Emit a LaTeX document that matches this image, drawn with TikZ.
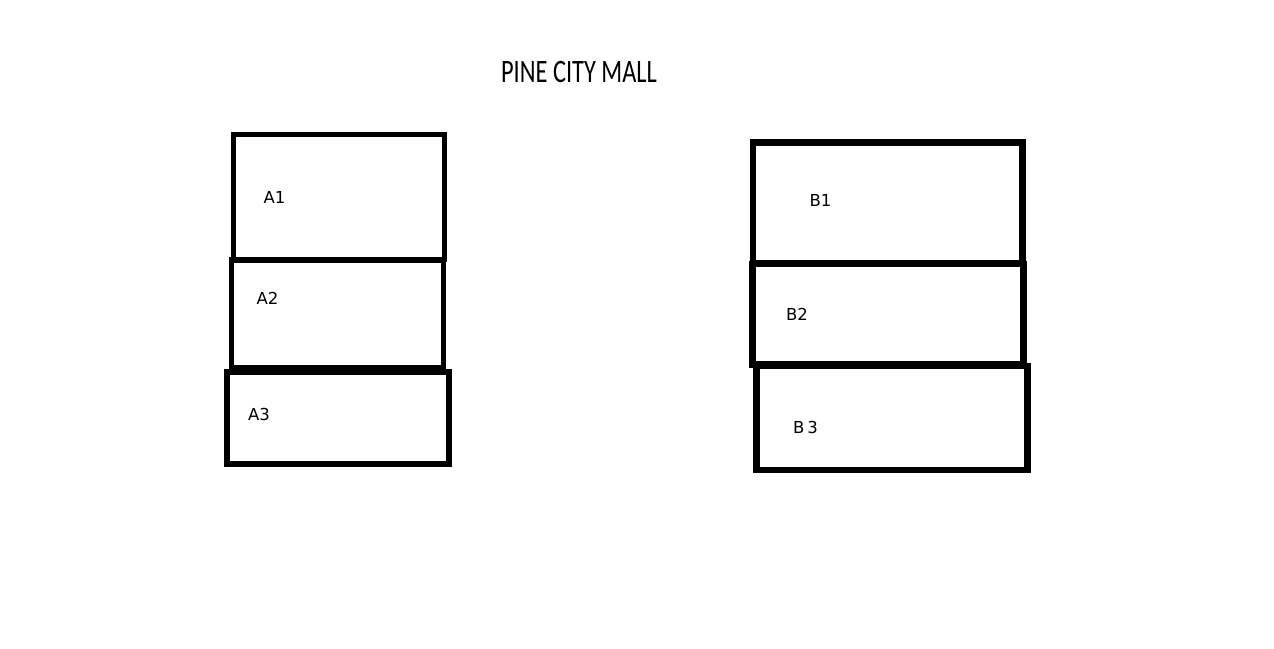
\documentclass[tikz,border=0pt]{standalone}
\usepackage{fontspec}
\setmainfont{DejaVu Sans}
\newfontfamily\titlefont{Carlito}
\begin{document}
\begin{tikzpicture}[x=1pt,y=-1pt,
  unitA/.style={line width=5.5pt},
  unitB/.style={line width=6.5pt},
  lbl/.style={inner sep=0pt,font=\fontsize{16.5}{19}\selectfont},
  lblB/.style={lbl}]
\useasboundingbox[fill=white] (0,0) rectangle (1274,648);
% title
\node[inner sep=0pt,yscale=1.34,font=\titlefont\fontsize{24.4}{28}\selectfont] (title) at (579,72.5) {PINE CITY MALL};
% A block
\draw[unitA] (233.5,134.5) rectangle (444.5,259.5);
\draw[unitA] (231.5,260) rectangle (443.5,368);
\draw[unitA] (227,372) rectangle (449,464);
\node[lbl] (a1) at (274.5,197.5) {A1};
\node[lbl] (a2) at (267.5,298) {A2};
\node[lbl] (a3) at (259,414) {A3};
% B block
\draw[unitB] (753,142.5) rectangle (1022.5,263.5);
\draw[unitB] (752.5,264) rectangle (1023.5,364.5);
\draw[unitB] (756.5,366) rectangle (1027.5,470);
\node[lblB] (b1) at (820.5,200) {B1};
\node[lblB] (b2) at (797,314) {B2};
\node[lblB] (b3) at (805.5,427.5) {B\,3};
\end{tikzpicture}
\end{document}
